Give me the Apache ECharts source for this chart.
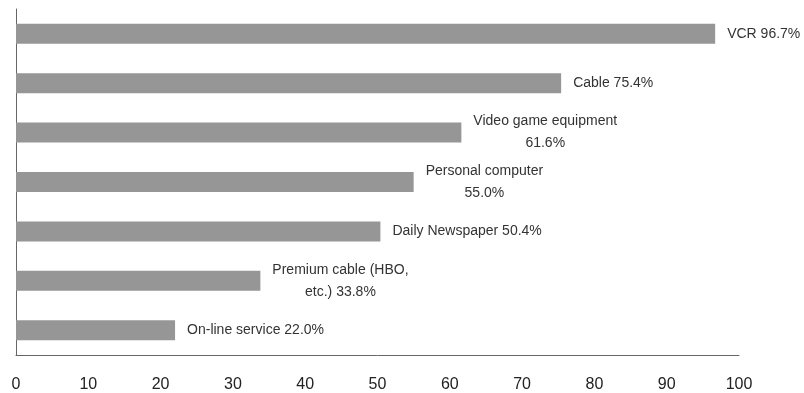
<!DOCTYPE html>
<html>
<head>
<meta charset="utf-8">
<title>Household media ownership</title>
<script src="https://cdn.jsdelivr.net/npm/echarts@6/dist/echarts.min.js"></script>
<style>
  html, body { margin: 0; padding: 0; background: #ffffff; }
  #chart { width: 804px; height: 393px; }
</style>
</head>
<body>
<div id="chart"></div>
<script>
// Categories, top to bottom (a "\n" marks where a label wraps)
const categories = [
  'VCR',
  'Cable',
  'Video game equipment',
  'Personal computer',
  'Daily Newspaper',
  'Premium cable (HBO,\netc.)',
  'On-line service'
];
// Share of households, percent
const shares = [96.7, 75.4, 61.6, 55.0, 50.4, 33.8, 22.0];
// Whether the value sits on its own line below the name
const valueOnOwnLine = [false, false, true, true, false, false, false];
// Horizontal axis ticks
const xTicks = [0, 10, 20, 30, 40, 50, 60, 70, 80, 90, 100];

const chart = echarts.init(document.getElementById('chart'), null, { renderer: 'canvas' });

function labelFor(i) {
  const text = categories[i] + (valueOnOwnLine[i] ? '\n' : ' ') + shares[i].toFixed(1) + '%';
  return text.split('\n').map(line => '{c|' + line + '}').join('\n');
}

const option = {
  animation: false,
  backgroundColor: '#ffffff',
  grid: { left: 16, right: 65, top: 9, bottom: 38, containLabel: false },
  xAxis: {
    type: 'value',
    min: xTicks[0],
    max: xTicks[xTicks.length - 1],
    interval: xTicks[1] - xTicks[0],
    axisLine: { show: true, lineStyle: { color: '#666666', width: 1 } },
    axisTick: { show: false },
    splitLine: { show: false },
    axisLabel: {
      margin: 22,
      color: '#222222',
      fontSize: 16,
      fontFamily: 'Liberation Sans, Arial, sans-serif'
    }
  },
  yAxis: {
    type: 'category',
    inverse: true,
    data: categories.map(c => c.replace('\n', ' ')),
    axisLine: { show: true, lineStyle: { color: '#666666', width: 1 } },
    axisTick: { show: false },
    axisLabel: { show: false },
    splitLine: { show: false }
  },
  series: [{
    type: 'bar',
    data: shares,
    barWidth: 20,
    itemStyle: { color: '#969696' },
    label: {
      show: true,
      position: 'right',
      distance: 12,
      color: '#333333',
      fontSize: 14,
      fontFamily: 'Liberation Sans, Arial, sans-serif',
      formatter: p => labelFor(p.dataIndex),
      rich: {
        c: {
          align: 'center',
          color: '#333333',
          fontSize: 14,
          lineHeight: 22,
          fontFamily: 'Liberation Sans, Arial, sans-serif'
        }
      }
    }
  }]
};

chart.setOption(option);
</script>
</body>
</html>
